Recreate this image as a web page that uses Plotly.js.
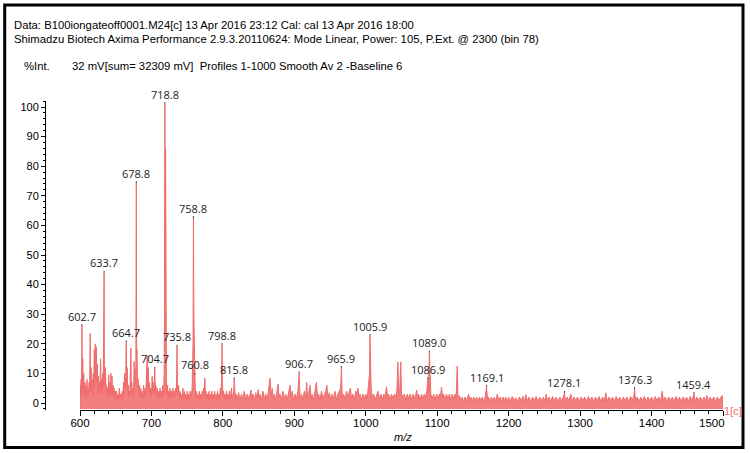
<!DOCTYPE html>
<html><head><meta charset="utf-8">
<script src="https://cdn.plot.ly/plotly-3.0.1.min.js"></script>
<style>html,body{margin:0;padding:0;background:#fff}#chart{width:750px;height:453px}</style>
</head><body><div id="chart"></div>
<script>
// Spectrum points: [m/z, %Int]
const spectrum = [
[600.0,-2],[600.3,6],[600.8,2],[601.5,8],[602.2,3],[602.7,26],[603.2,4],[603.8,15],[604.5,5],[605.3,10],[606.0,3],[606.8,7],[607.5,2],[608.3,6],[609.0,3],[609.8,8],[610.5,2],[611.3,5],[612.0,3],[612.8,7],[613.5,4],[614.2,23.5],[614.8,5],[615.5,12],[616.3,4],[617.0,8],[617.7,3],[618.5,10],[619.2,5],[620.0,18],[620.6,6],[621.4,20],[622.0,8],[622.8,19],[623.5,7],[624.2,13],[625.0,4],[625.8,9],[626.5,3],[627.3,7],[628.0,5],[628.8,15],[629.5,4],[630.3,8],[631.0,3],[631.8,10],[632.5,5],[633.2,20],[633.7,44],[634.2,10],[634.9,6],[635.6,12],[636.4,3],[637.2,6],[638.0,2],[638.8,5],[639.5,3],[640.2,9.5],[641.0,3],[641.8,7],[642.5,2],[643.3,10],[644.0,3],[644.8,9],[645.5,2],[646.3,6],[647.0,3],[647.8,5],[648.5,2],[649.3,4],[650.0,1.5],[651.0,4],[652.0,1],[653.0,3],[654.0,1.5],[655.0,5],[656.0,2],[657.0,3],[658.0,1],[659.0,4],[660.0,2],[661.0,7],[661.8,3],[662.5,10],[663.3,5],[664.0,9],[664.7,20.5],[665.3,6],[666.0,12],[666.8,4],[667.5,6],[668.3,2],[669.0,4],[669.8,3],[670.5,8],[671.2,18.6],[671.8,5],[672.5,7],[673.3,3],[674.0,5],[675.0,2],[675.8,14],[676.5,6],[677.3,8],[678.2,12],[678.8,74.3],[679.3,16],[679.8,18],[680.6,5],[681.3,8],[682.0,3],[683.0,6],[684.0,2],[685.0,5],[686.0,2],[687.0,4],[688.0,1.5],[689.0,6],[690.0,2],[691.0,5],[692.0,3],[693.0,9],[694.0,16],[694.7,5],[695.5,12],[696.3,4],[697.2,7],[698.0,3],[699.0,5],[700.0,2],[701.0,9],[701.8,4],[702.5,7],[703.3,3],[704.0,6],[704.7,11.5],[705.4,4],[706.2,6],[707.0,2],[708.0,5],[709.0,2],[710.0,4],[711.0,1.5],[712.0,5],[713.0,2],[714.0,4],[715.0,2],[716.0,6],[717.0,3],[717.8,10],[718.3,30],[718.8,101],[719.3,40],[719.8,86],[720.4,20],[721.0,8],[721.8,3],[722.5,6],[723.3,2],[724.0,4],[725.0,1.5],[726.0,5],[727.0,2],[728.0,4],[729.0,1.5],[730.0,5],[731.0,2],[732.0,4],[733.0,2],[734.0,5],[735.0,4],[735.8,19],[736.5,5],[737.3,3],[738.0,6],[739.0,2],[740.0,4],[741.0,1.5],[742.0,3],[743.0,1],[744.0,5],[745.0,1.5],[746.0,4],[747.0,1.5],[748.0,3],[749.0,1],[750.0,4],[751.0,1.5],[752.0,3],[753.0,1],[754.0,4],[755.0,2],[756.0,3],[757.0,5],[758.2,20],[758.8,62.5],[759.4,30],[760.0,12],[760.8,9.5],[761.5,4],[762.3,2],[763.0,4],[764.0,1.5],[765.0,3],[766.0,1],[767.0,4],[768.0,1.5],[769.0,3],[770.0,1],[771.0,4],[772.0,2],[773.0,5],[774.0,3],[774.8,8.4],[775.5,3],[776.5,4],[777.5,1.5],[778.5,3],[779.5,1],[780.5,4],[781.5,1.5],[782.5,3],[783.5,1],[784.5,4],[785.5,1.5],[786.5,3],[787.5,1],[788.5,4],[789.5,1.5],[790.5,3],[791.5,1],[792.5,4],[793.5,1.5],[794.5,3],[795.5,1.5],[796.5,5],[797.5,3],[798.3,8],[798.8,19.6],[799.4,6],[800.2,3],[801.0,4],[802.0,1.5],[803.0,3],[804.0,1],[805.0,4],[806.0,1.5],[807.0,3],[808.0,1],[809.0,4],[810.0,1.5],[811.0,3],[812.0,5],[813.0,1.5],[814.0,3],[815.2,4],[815.8,8],[816.5,3],[817.5,1.5],[818.5,3],
[820,1],[822,3.5],[824,1],[826,3],[828,1.5],[830,4],[832,1],[834,3],[836,1.5],[838,3],[839.3,4.4],[840.5,1],[842,3],[844,1],[846,3.5],[848,1.5],[849.3,4.5],[850.5,1.5],[852,3],[854,1],[856,4],[858,1.5],[860,3],[862,1],[864,4],[866,8.4],[867.5,2],[869,5],[870.5,1.5],[872,3],[874,1],[876,4],[877.3,6.4],[878.5,2],[880,3],[882,1],[884,4],[886,1.5],[888,3],[890,1],[892,4],[894,6],[895.5,2],[897,4],[899,1],[901,3],[903,1.5],[905,4],[906.7,10],[908,2],[910,3],[912,1],[914,4],[916,2],[917.3,7],[918.5,1.5],[920,3],[922,6],[923.5,1.5],[925,3],[927,1],[929,4],[931,7],[932.5,1.5],[934,3],[936,1],[938,4],[940,1.5],[942,3],[944,4],[945.5,6],[947,2],[949,3.5],[951,1],[953,3],[955,1.5],[957,4],[959,1],[961,3],[963,4],[964.8,5],[965.9,11.8],[967,2],[969,3],[971,1],[973,4],[975,2],[977,4],[978.5,5],[980,1.5],[982,3],[984,1],[986,4],[987.5,3],[989,5],[990.5,2],[992,3],[994,1],[996,3],[998,1.5],[1000,3],[1002,1.5],[1003.5,5],[1005.3,10],[1005.9,22.6],[1006.6,9],[1007.5,5],[1009,2],[1011,3],[1013,1],[1015,3],[1017,4],[1019,1.5],[1021,3],[1023,1],[1025,3],[1027,2],[1029,5.5],[1030.5,2],[1032,3],[1034,1],[1036,3],[1038,1.5],[1040,3],[1042,2],[1043.5,4],[1045,13.9],[1046,3],[1047.5,4],[1049,13.9],[1050,3],[1052,2],[1054,3],[1056,1],[1058,3],[1060,1.5],[1062,3],[1064,1],[1066,3],[1068,1.5],[1070,3],[1071.3,4.4],[1072.5,1.5],[1074,3],[1076,1],[1078,3],[1080,1.5],[1082,3],[1084,2],[1085.5,4],[1086.9,8],[1087.8,4],[1089.0,17],[1089.8,6],[1091,3],[1093,1.5],[1095,3],[1097,1],[1099,3],[1101,1.5],[1103,3],[1104.5,2],[1106,5.4],[1107.5,2],[1109,3],[1111,1],[1113,3],[1115,1.5],[1117,3],[1119,1],[1121,3],[1123,1.5],[1125,3],[1126.5,2],[1128,12.5],[1129,2],[1131,2.5],[1133,0.8],[1135,2],
[1137,0.5],[1139,2],[1141,0.8],[1143,2.5],[1144,3],[1145.5,0.8],[1147,2],[1149,0.5],[1151,2],[1153,0.8],[1155,2],[1157,0.5],[1159,2],[1161,0.8],[1163,2],[1165,0.5],[1167,2],[1169.1,5.4],[1170.5,1],[1172,2],[1174,0.5],[1176,2],[1178,0.8],[1180,2],[1182,0.5],[1184,3],[1186,0.8],[1188,2],[1190,0.5],[1192,2],[1194,0.8],[1196,2],[1198,0.5],[1200,2],
[1202.5,0.6],[1205,2.2],[1207.5,0.8],[1210,1.8],[1212.5,0.5],[1215,2],[1217.5,0.8],[1220,2.2],[1222.5,0.6],[1224,2.8],[1226,0.8],[1228.5,2],[1231,0.5],[1233.5,2],[1236,0.8],[1238.5,2.2],[1241,0.5],[1243.5,2],[1246,0.8],[1248.5,2],[1251,0.6],[1252.5,3],[1254,0.8],[1256.5,2],[1259,0.5],[1261.5,2.2],[1264,0.8],[1266.5,2],[1269,0.5],[1271.5,2],[1274,0.8],[1276.5,2],[1278.1,3.4],[1279.5,0.6],[1282,2],[1284.5,0.8],[1287,3],[1289,0.6],[1291.5,2],[1294,0.8],[1296.5,2],[1299,0.5],
[1301.5,2],[1304,0.8],[1306.5,2],[1309,0.5],[1311.5,2.2],[1314,0.8],[1316.5,2],[1319,0.5],[1321.5,2],[1324,0.8],[1326.5,2.2],[1329,0.5],[1331.5,2],[1334,0.8],[1336,3.4],[1338,0.6],[1340.5,2],[1343,0.8],[1345.5,2],[1348,0.5],[1350.5,2.2],[1353,0.8],[1355.5,2],[1358,0.5],[1360.5,2],[1363,0.8],[1365.5,2],[1368,0.5],[1370.5,2.2],[1373,0.8],[1375.3,2.5],[1376.3,4.7],[1377.5,0.8],[1380,2],[1382.5,0.5],[1385,2],[1387.5,0.8],[1390,2.2],[1392.5,0.5],[1395,2],[1397.5,0.8],
[1400,2],[1402.5,0.5],[1405,2.2],[1407.5,0.8],[1410,2],[1412.5,0.6],[1415,4],[1416.5,0.8],[1419,2],[1421.5,0.5],[1424,2],[1426.5,0.8],[1429,2],[1431.5,0.5],[1434,2.2],[1436.5,0.8],[1439,2],[1441.5,0.5],[1444,2],[1446.5,0.8],[1449,2],[1451.5,0.5],[1454,2.2],[1456.5,0.8],[1459.4,3],[1461,0.6],[1463.5,2],[1466,0.8],[1468.5,2],[1471,0.5],[1473.5,2],[1476,0.8],[1477.5,2.5],[1479.5,0.6],[1482,2],[1484.5,0.8],[1487,2],[1489.5,0.5],[1492,2],[1494.5,0.8],[1497,2],[1499,2.5],[1500,-2]
];
const mz = spectrum.map(p => p[0]);
const intensity = spectrum.map(p => p[1]);

const peakMz  = [602.7, 633.7, 664.7, 678.8, 704.7, 718.8, 735.8, 758.8, 760.8, 798.8, 815.8, 906.7, 965.9, 1005.9, 1086.9, 1089.0, 1169.1, 1278.1, 1376.3, 1459.4];
const peakInt = [26, 44, 20.5, 74.3, 11.5, 101, 19, 62.5, 9.5, 19.6, 8, 10, 11.8, 22.6, 8, 17, 5.4, 3.4, 4.7, 3];

const xRange = [600, 1500];
const yRange = [-2.36, 102.03];
const xTickVals = [600, 700, 800, 900, 1000, 1100, 1200, 1300, 1400, 1500];
const xTickText = ['600', '700', '800', '900', '1000', '1100', '1200', '1300', '1400', '1500\u00a0\u00a0\u00a0\u00a0\u00a0\u00a0\u00a0'];
const yTickVals = [0, 10, 20, 30, 40, 50, 60, 70, 80, 90, 100];

const headerLine1 = "Data: B100iongateoff0001.M24[c] 13 Apr 2016 23:12 Cal: cal 13 Apr 2016 18:00";
const headerLine2 = "Shimadzu Biotech Axima Performance 2.9.3.20110624: Mode Linear, Power: 105, P.Ext. @ 2300 (bin 78)";
const yLabel = "%Int.";
const infoLine = "32 mV[sum= 32309 mV]  Profiles 1-1000 Smooth Av 2 -Baseline 6";
const xLabel = "<i>m/z</i>";
const traceTag = "1[c]";

// pixel helpers for paper coordinates (plot area 45..723 x 101..410)
const L = 45, R = 723, T = 101, B = 410;
const px = x => (x - L) / (R - L);
const py = y => (B - y) / (B - T);

const salmon = 'rgb(240,108,108)';
const traces = [
  {x: [xRange[0], xRange[1]], y: [-2, -2], mode: 'lines', line: {width: 0}, hoverinfo: 'skip', showlegend: false},
  {x: mz, y: intensity, mode: 'lines', line: {color: salmon, width: 1}, fill: 'tonexty',
   fillcolor: 'rgba(242,115,115,0.92)', showlegend: false}
];

const hdrFont = {family: 'Liberation Sans, Arial, sans-serif', size: 11.3, color: '#000'};
const annotations = [
  {xref: 'paper', yref: 'paper', x: px(12), y: py(25.5), xanchor: 'left', yanchor: 'middle', text: headerLine1, showarrow: false, font: hdrFont},
  {xref: 'paper', yref: 'paper', x: px(12), y: py(39), xanchor: 'left', yanchor: 'middle', text: headerLine2, showarrow: false, font: hdrFont},
  {xref: 'paper', yref: 'paper', x: px(22), y: py(66), xanchor: 'left', yanchor: 'middle', text: yLabel, showarrow: false, font: hdrFont},
  {xref: 'paper', yref: 'paper', x: px(70), y: py(66), xanchor: 'left', yanchor: 'middle', text: infoLine, showarrow: false, font: hdrFont},
  {xref: 'paper', yref: 'paper', x: px(403), y: py(437), xanchor: 'center', yanchor: 'middle', text: xLabel, showarrow: false, font: {family: 'Liberation Sans, Arial, sans-serif', size: 11, color: '#000'}},
  {xref: 'paper', yref: 'paper', x: px(723), y: py(411), xanchor: 'left', yanchor: 'middle', text: traceTag, showarrow: false, borderpad: 0, font: {family: 'Liberation Sans, Arial, sans-serif', size: 11, color: 'rgb(240,110,110)'}}
];
peakMz.forEach((m, i) => {
  annotations.push({x: m, y: peakInt[i], xref: 'x', yref: 'y', text: m.toFixed(1), showarrow: true,
    arrowhead: 0, arrowwidth: 1, arrowcolor: '#444', ax: 0, ay: -10, standoff: 0,
    font: {family: 'Open Sans, sans-serif', size: 11, color: '#222'}, borderpad: 0});
});

const shapes = [
  {type: 'rect', xref: 'paper', yref: 'paper', x0: px(4.7), x1: px(743), y0: py(5), y1: py(447.5),
   line: {color: '#000', width: 3}, fillcolor: 'rgba(0,0,0,0)', layer: 'above'}
];

const layout = {
  width: 750, height: 453,
  margin: {l: L, r: 750 - R, t: T, b: 453 - B, pad: 0},
  paper_bgcolor: '#fff', plot_bgcolor: '#fff',
  showlegend: false,
  xaxis: {
    domain: [px(80), 1], range: xRange, tickvals: xTickVals, ticktext: xTickText, ticks: 'outside', ticklen: 5, tickwidth: 1,
    tickcolor: '#000', showline: true, linecolor: '#000', linewidth: 1, showgrid: false, zeroline: false,
    ticklabelstandoff: -3,
    tickfont: {family: 'Liberation Sans, Arial, sans-serif', size: 11.5, color: '#000'},
    minor: {dtick: 20, ticks: 'outside', ticklen: 3, tickcolor: '#000', showgrid: false}
  },
  yaxis: {
    anchor: 'free', position: 0, range: yRange, tickvals: yTickVals, ticks: 'outside', ticklen: 4, tickwidth: 1,
    tickcolor: '#000', showline: true, linecolor: '#000', linewidth: 1, showgrid: false, zeroline: false,
    tickfont: {family: 'Liberation Sans, Arial, sans-serif', size: 11, color: '#000'},
    minor: {dtick: 2, ticks: 'outside', ticklen: 2, tickcolor: '#000', showgrid: false}
  },
  annotations: annotations,
  shapes: shapes
};

Plotly.newPlot('chart', traces, layout, {displayModeBar: false, staticPlot: true});
</script>
</body></html>
